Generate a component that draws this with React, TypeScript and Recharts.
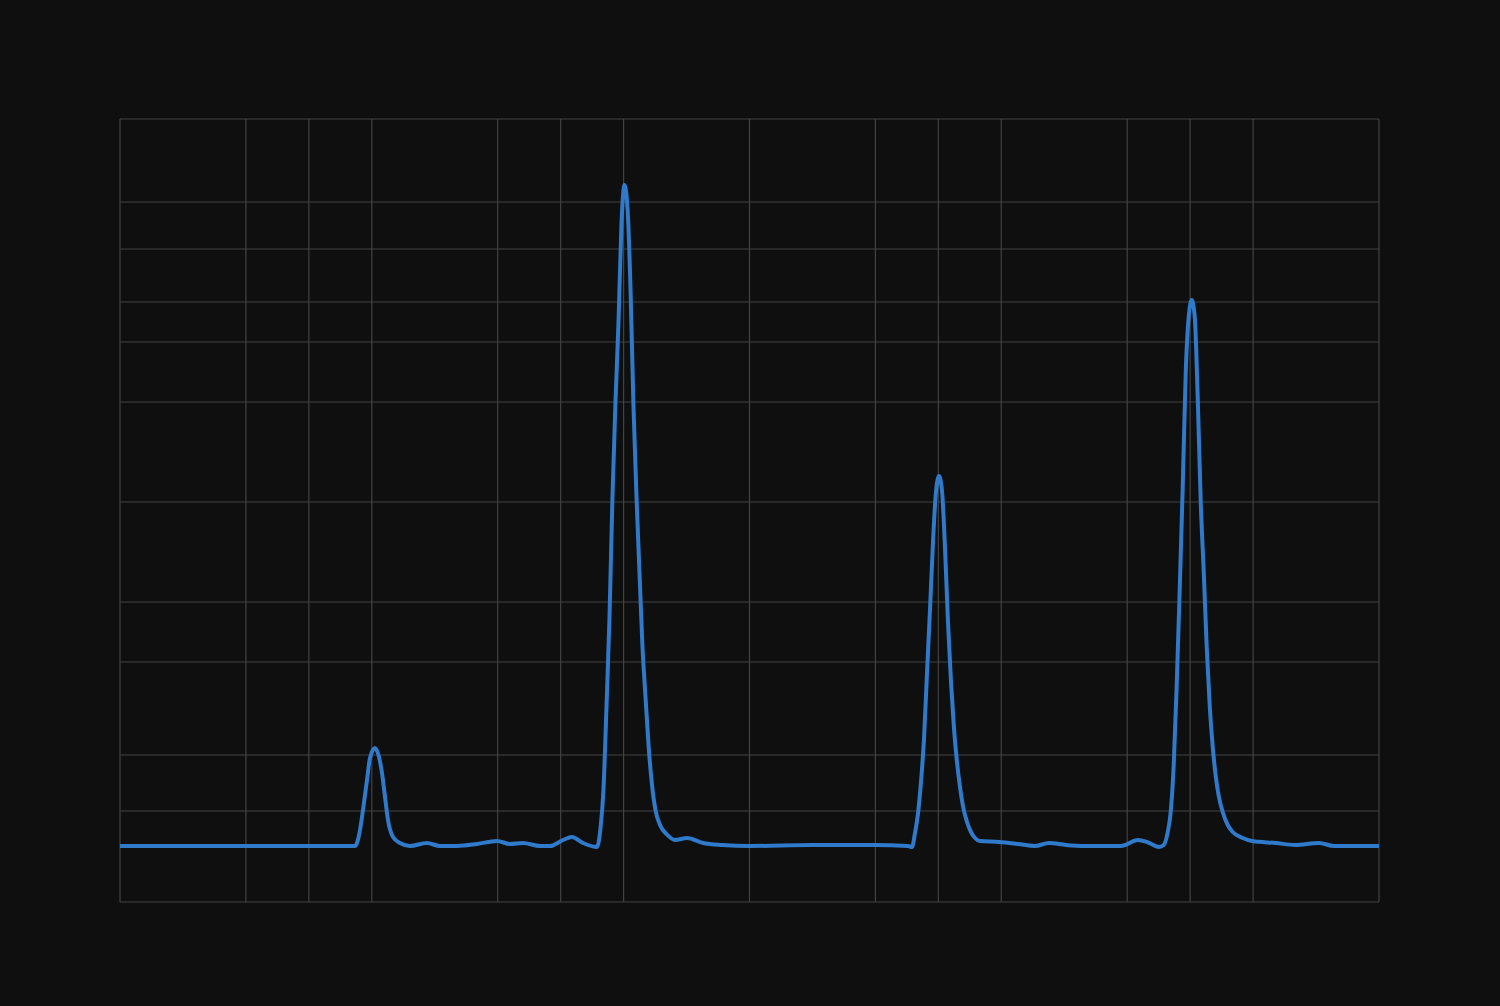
import { LineChart, Line, XAxis, YAxis, CartesianGrid } from "recharts";

// retention positions and detector response
const positions = [
  0, 3.733, 3.813, 3.86, 3.924, 3.971, 4.051, 4.114, 4.162, 4.21, 4.257, 4.337,
  4.448, 4.607, 4.877, 5.083, 5.353, 5.671, 5.989, 6.195, 6.402, 6.672, 6.831,
  7.037, 7.18, 7.355,
  // peak at ~8
  7.577, 7.633, 7.68, 7.728, 7.776, 7.823, 7.871, 7.919, 7.966, 8.014, 8.062,
  8.109, 8.157, 8.205, 8.252, 8.3, 8.348, 8.395, 8.443, 8.506, 8.586, 8.681,
  8.817, 9.007, 9.261, 9.563, 10.008, 10.993, 11.978, 12.518,
  // peak at ~13
  12.581, 12.629, 12.676, 12.724, 12.772, 12.819, 12.867, 12.915, 12.962,
  13.01, 13.058, 13.105, 13.153, 13.201, 13.248, 13.296, 13.344, 13.391,
  13.455, 13.518, 13.582, 13.661, 13.963, 14.265, 14.535, 14.758, 15.028,
  15.33, 15.901, 16.172, 16.315,
  // peak at ~17
  16.505, 16.58, 16.644, 16.691, 16.739, 16.787, 16.834, 16.882, 16.93,
  16.977, 17.025, 17.073, 17.12, 17.168, 17.216, 17.263, 17.311, 17.359,
  17.406, 17.454, 17.517, 17.597, 17.676, 17.835, 17.983, 18.364, 18.666,
  19.047, 19.285, 20,
];

const response = [
  0.56, 0.56, 0.72, 0.92, 1.22, 1.44, 1.54, 1.45, 1.29, 1.05, 0.82, 0.65,
  0.59, 0.56, 0.59, 0.56, 0.56, 0.58, 0.61, 0.58, 0.59, 0.56, 0.56,
  0.62, 0.65, 0.59,
  0.55, 0.74, 1.12, 1.95, 2.85, 4.05, 5.0, 5.8, 6.78, 7.17, 6.94,
  6.15, 4.95, 4.05, 3.3, 2.55, 2.05, 1.58, 1.22, 0.92, 0.76, 0.68,
  0.62, 0.64, 0.59, 0.57, 0.56, 0.57, 0.57, 0.56,
  0.55, 0.69, 0.88, 1.2, 1.63, 2.28, 2.92, 3.6, 4.1,
  4.26, 4.11, 3.55, 2.8, 2.2, 1.74, 1.4, 1.15, 0.96,
  0.8, 0.7, 0.64, 0.61, 0.6, 0.58, 0.56, 0.59, 0.57,
  0.56, 0.56, 0.62, 0.6,
  0.55, 0.57, 0.7, 0.9, 1.37, 2.18, 3.12, 4.15, 5.3,
  5.85, 6.02, 5.85, 5.05, 4.0, 3.3, 2.55, 1.96, 1.55,
  1.26, 1.06, 0.9, 0.77, 0.7, 0.64, 0.61, 0.59, 0.57,
  0.59, 0.56, 0.56,
];

const xTicks = [0, 2, 3, 4, 6, 7, 8, 10, 12, 13, 14, 16, 17, 18, 20];
const yTicks = [0, 0.91, 1.47, 2.4, 3, 4, 5, 5.6, 6, 6.53, 7, 7.83];

const data = positions.map((x, i) => ({ x, y: response[i] }));

const NoTick = () => <g />;

export default function App() {
  return (
    <div
      style={{
        position: "fixed",
        top: 0,
        left: 0,
        width: 1500,
        height: 1006,
        background: "#0f0f0f",
      }}
    >
      <LineChart
        width={1500}
        height={1006}
        data={data}
        margin={{ top: 119, right: 121, bottom: 104, left: 120 }}
      >
        <CartesianGrid stroke="#424242" strokeWidth={1.2} />
        <XAxis
          dataKey="x"
          type="number"
          domain={[0, 20]}
          ticks={xTicks}
          interval={0}
          tick={NoTick}
          tickLine={false}
          axisLine={false}
          height={0}
        />
        <YAxis
          type="number"
          domain={[0, 7.83]}
          ticks={yTicks}
          interval={0}
          tick={NoTick}
          tickLine={false}
          axisLine={false}
          width={0}
        />
        <Line
          type="monotone"
          dataKey="y"
          stroke="#2f7acb"
          strokeWidth={4}
          dot={false}
          isAnimationActive={false}
        />
      </LineChart>
    </div>
  );
}
